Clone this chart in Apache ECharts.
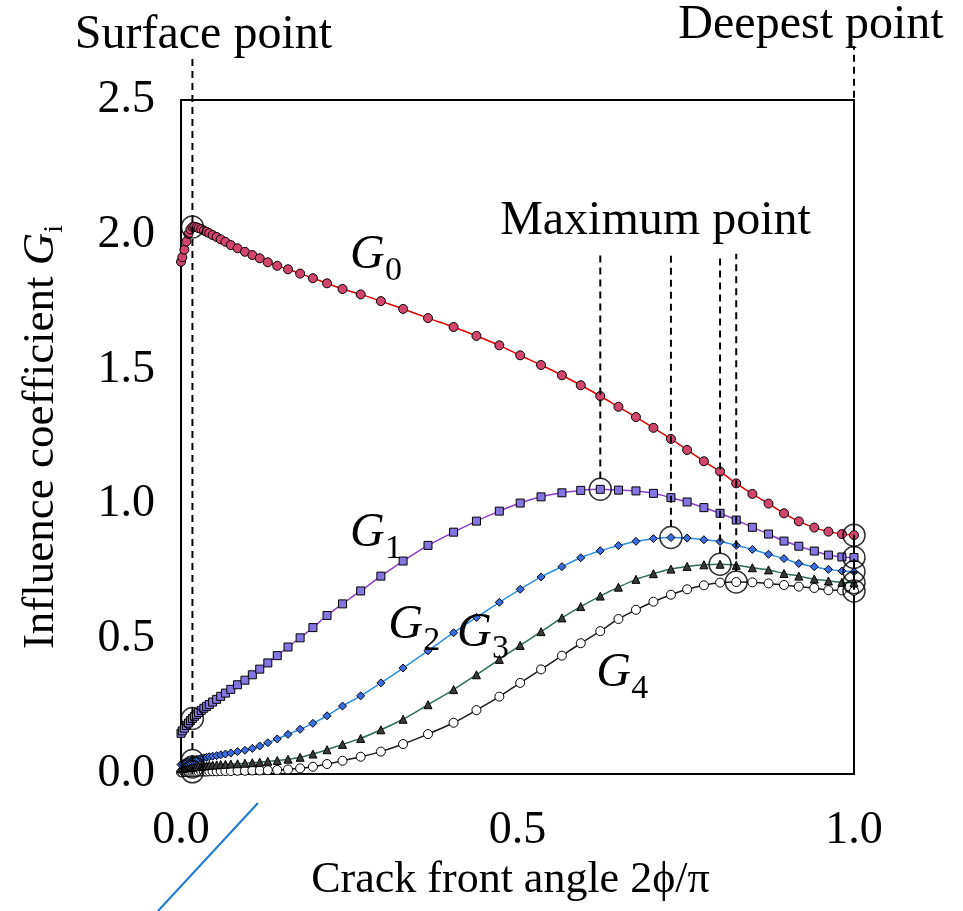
<!DOCTYPE html>
<html><head><meta charset="utf-8">
<script src="https://cdn.jsdelivr.net/npm/echarts@6/dist/echarts.min.js"></script>
<style>html,body{margin:0;padding:0;background:#fff}#c{width:963px;height:911px}</style>
</head><body><div id="c"></div>
<script>
// crack front angle 2phi/pi (shared x for all series)
const xAngle = [0.000,0.002,0.005,0.008,0.011,0.014,0.017,0.020,0.023,0.026,
0.030,0.034,0.038,0.042,0.047,0.053,0.059,0.066,0.074,0.084,
0.095,0.106,0.117,0.129,0.143,0.159,0.177,0.196,0.217,0.240,
0.267,0.297,0.330,0.367,0.405,0.439,0.473,0.504,0.535,0.566,
0.594,0.623,0.650,0.676,0.702,0.728,0.752,0.777,0.801,0.825,
0.849,0.873,0.896,0.918,0.941,0.962,0.982,1.000];
const g0 = [1.900,1.917,1.945,1.975,2.003,2.020,2.029,2.030,2.028,2.025,
2.021,2.016,2.011,2.006,1.999,1.992,1.983,1.974,1.962,1.950,
1.937,1.925,1.913,1.898,1.885,1.872,1.856,1.839,1.820,1.799,
1.779,1.754,1.725,1.691,1.658,1.625,1.590,1.553,1.517,1.479,
1.442,1.402,1.362,1.324,1.284,1.243,1.202,1.160,1.122,1.078,
1.039,1.003,0.967,0.937,0.914,0.899,0.890,0.886];
const g1 = [0.151,0.160,0.170,0.180,0.189,0.198,0.206,0.214,0.221,0.228,
0.236,0.244,0.251,0.258,0.267,0.277,0.288,0.300,0.314,0.331,
0.348,0.368,0.389,0.412,0.439,0.471,0.505,0.543,0.588,0.631,
0.679,0.734,0.790,0.848,0.897,0.938,0.975,1.005,1.028,1.043,
1.052,1.056,1.053,1.050,1.041,1.025,1.009,0.988,0.967,0.942,
0.915,0.890,0.864,0.845,0.827,0.812,0.805,0.803];
const g2 = [0.035,0.038,0.041,0.044,0.046,0.048,0.050,0.052,0.054,0.056,
0.058,0.060,0.062,0.064,0.066,0.068,0.071,0.074,0.078,0.083,
0.088,0.095,0.104,0.116,0.130,0.147,0.166,0.188,0.216,0.252,
0.290,0.338,0.393,0.457,0.524,0.581,0.637,0.685,0.731,0.769,
0.802,0.828,0.847,0.863,0.873,0.877,0.875,0.869,0.862,0.848,
0.833,0.815,0.799,0.781,0.769,0.759,0.753,0.750];
const g3 = [0.020,0.021,0.022,0.023,0.024,0.025,0.026,0.027,0.027,0.028,
0.029,0.030,0.031,0.032,0.033,0.034,0.035,0.036,0.037,0.038,
0.040,0.042,0.044,0.047,0.050,0.055,0.062,0.074,0.090,0.110,
0.132,0.164,0.203,0.257,0.313,0.368,0.425,0.477,0.528,0.579,
0.621,0.660,0.693,0.722,0.743,0.760,0.770,0.776,0.778,0.774,
0.765,0.757,0.744,0.734,0.723,0.716,0.711,0.709];
const g4 = [0.006,0.006,0.007,0.007,0.007,0.008,0.008,0.008,0.008,0.009,
0.009,0.009,0.009,0.010,0.010,0.010,0.011,0.011,0.011,0.012,
0.012,0.013,0.013,0.014,0.015,0.017,0.021,0.027,0.037,0.049,
0.064,0.083,0.111,0.148,0.190,0.237,0.287,0.338,0.388,0.439,
0.485,0.530,0.575,0.609,0.639,0.665,0.685,0.700,0.710,0.712,
0.711,0.707,0.701,0.695,0.690,0.682,0.681,0.679];
const seriesNames = ['G0','G1','G2','G3','G4'];
const xTickLabels = ['0.0','0.5','1.0'];
const yTickLabels = ['0.0','0.5','1.0','1.5','2.0','2.5'];
const surfaceIdx = 6;          // surface point index
const deepestIdx = 57;         // deepest point index
const maxIdx = [41,45,48,49];  // maximum point indices of G1..G4

const FONT = '"Liberation Serif","Times New Roman",serif';
const allG = [g0,g1,g2,g3,g4];
const pair = (g) => xAngle.map((x,i)=>[x,g[i]]);

const styles = [
  {line:'#e00000', sym:'circle',   size:9, fill:'#d2466e'},
  {line:'#8a3ec8', sym:'rect',     size:8, fill:'#8476e0'},
  {line:'#2c8ee0', sym:'diamond',  size:8, fill:'#3a6ee2'},
  {line:'#2e6e52', sym:'triangle', size:8, fill:'#3a3a3a'},
  {line:'#1a1a1a', sym:'circle',   size:9, fill:'#ffffff'}
];

const series = [];
allG.forEach((g,k)=>{
  series.push({
    name: seriesNames[k], type:'line', data: pair(g), smooth:0.3,
    symbol: styles[k].sym, symbolSize: styles[k].size, showSymbol:true,
    lineStyle:{color:styles[k].line, width:1.5},
    itemStyle:{color:styles[k].fill, borderColor:'#000', borderWidth:1},
    z: 10 - k, animation:false
  });
});
// highlighted circles
const circ = [];
allG.forEach(g=>{ circ.push([xAngle[surfaceIdx], g[surfaceIdx]]); circ.push([xAngle[deepestIdx], g[deepestIdx]]); });
maxIdx.forEach((idx,k)=>circ.push([xAngle[idx], allG[k+1][idx]]));
series.push({type:'scatter', data:circ, symbol:'circle', symbolSize:22, z:20, silent:true,
  itemStyle:{color:'rgba(0,0,0,0)', borderColor:'#000', borderWidth:1.5}, animation:false});
// dashed guide lines
const dash = (pts)=>({type:'line', data:pts, clip:false, showSymbol:false, symbol:'none', silent:true, z:15,
  lineStyle:{color:'#000', width:2, type:[7,5]}, animation:false});
const cOff = 0.04;
series.push(dash([[xAngle[surfaceIdx],0],[xAngle[surfaceIdx],2.66]]));
series.push(dash([[xAngle[deepestIdx], g4[deepestIdx]-cOff],[xAngle[deepestIdx],2.70]]));
maxIdx.forEach((idx,k)=>series.push(dash([[xAngle[idx], allG[k+1][idx]+cOff],[xAngle[idx],1.93]])));

const chart = echarts.init(document.getElementById('c'), null, {renderer:'canvas'});
chart.setOption({
  backgroundColor:'#fff',
  animation:false,
  textStyle:{fontFamily:FONT},
  grid:{left:181, right:109, top:100, bottom:137, show:true, borderColor:'#000', borderWidth:2, backgroundColor:'transparent'},
  xAxis:{type:'value', min:0, max:1, interval:0.5,
    axisLine:{show:true, lineStyle:{color:'#000', width:2}}, axisTick:{show:false}, splitLine:{show:false},
    axisLabel:{fontSize:46, color:'#000', fontFamily:FONT, margin:34,
      formatter:(v)=>xTickLabels[Math.round(v/0.5)]},
    name:'Crack front angle 2ϕ/π', nameLocation:'middle', nameGap:84,
    nameTextStyle:{fontSize:44, color:'#000', fontFamily:FONT, padding:[0,14,0,0]}},
  yAxis:{type:'value', min:0, max:2.5, interval:0.5,
    axisLine:{show:true, lineStyle:{color:'#000', width:2}}, axisTick:{show:false}, splitLine:{show:false},
    axisLabel:{fontSize:46, color:'#000', fontFamily:FONT, margin:26,
      formatter:(v)=>yTickLabels[Math.round(v/0.5)]},
    name:'{a|Influence coefficient }{g|G}{s|i}', nameLocation:'middle', nameGap:112, nameRotate:90,
    nameTextStyle:{color:'#000', fontFamily:FONT, rich:{
      a:{fontSize:45, fontFamily:FONT, color:'#000', lineHeight:56, verticalAlign:'middle'},
      g:{fontSize:45, fontFamily:FONT, fontStyle:'italic', color:'#000', lineHeight:56, verticalAlign:'middle'},
      s:{fontSize:28, fontFamily:FONT, color:'#000', lineHeight:28, verticalAlign:'bottom'}}}},
  series
});

// text annotations placed via the data scale
const P = (x,y)=>chart.convertToPixel({gridIndex:0},[x,y]);
const graphics = [];
// baseline-anchored text (default text box is top-anchored; shift by ascent)
function txt(text, x, baseY, size, opts){
  graphics.push({type:'text', x, y: baseY - Math.round(size*0.82), silent:true, z:100,
    style:Object.assign({text, font:size+'px '+FONT, fill:'#000', textAlign:'center'}, opts||{})});
}
// G labels: [x,y] in data units of the baseline-left of "G"
const gLabelPos = [[0.251,1.869],[0.251,0.838],[0.308,0.497],[0.410,0.467],[0.617,0.319]];
gLabelPos.forEach((p,k)=>{
  const q = P(p[0],p[1]);
  txt('G', q[0], q[1], 48, {font:'italic 48px '+FONT, textAlign:'left'});
  txt(String(k), q[0]+35, q[1]+12, 34, {font:'34px '+FONT, textAlign:'left'});
});
const sp = P(xAngle[surfaceIdx], 2.5);
txt('Surface point', sp[0]+11, 50, 48);
const dp = P(xAngle[deepestIdx], 2.5);
txt('Deepest point', dp[0]-43, 40, 48);
const mp = P(0.705, 1.93);
txt('Maximum point', mp[0], mp[1]-17, 48);
// stray blue stroke seen in the reference
graphics.push({type:'line', silent:true, shape:{x1:158,y1:911,x2:258,y2:803}, style:{stroke:'#1a78d0', lineWidth:2}});
chart.setOption({graphic:graphics});
</script></body></html>
